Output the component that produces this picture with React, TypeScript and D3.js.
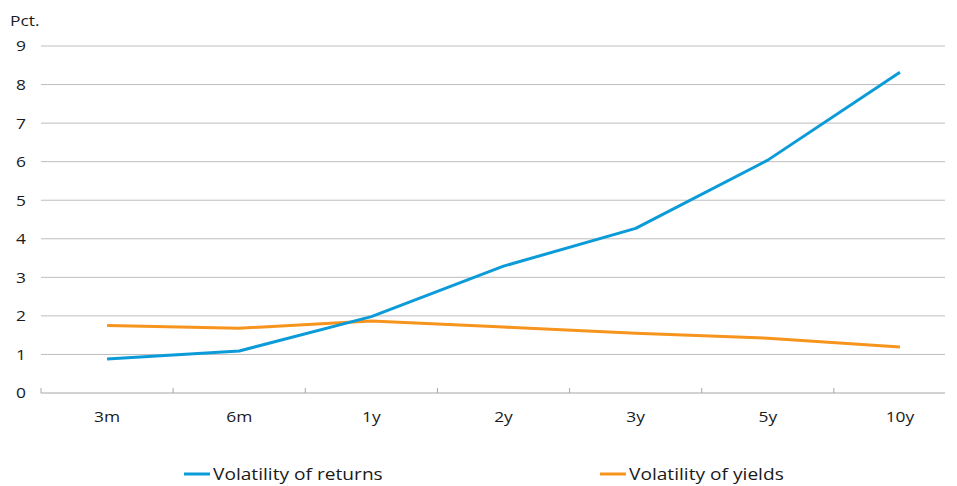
import React from "react";
import * as d3 from "d3";

const categories = ["3m", "6m", "1y", "2y", "3y", "5y", "10y"];
const returnsValues = [0.88, 1.09, 1.98, 3.29, 4.27, 6.04, 8.32];
const yieldsValues = [1.75, 1.68, 1.87, 1.71, 1.55, 1.42, 1.19];
const yTicks = [0, 1, 2, 3, 4, 5, 6, 7, 8, 9];
const seriesNames = ["Volatility of returns", "Volatility of yields"];

const W = 957;
const H = 486;
const left = 41;
const bandRight = 966;
const gridRight = 945;
const top = 46;
const bottom = 393;
const font = "'Open Sans', 'Noto Sans', sans-serif";
const textColor = "#1a1a1a";
const colors = ["#0A9BD8", "#F7941D"];
const stretch = 1.16;

function T(props: { x: number; y: number; anchor?: string; size: number; children: React.ReactNode; dy?: string }) {
  return (
    <text
      transform={`translate(${props.x},${props.y}) scale(${stretch},1)`}
      dy={props.dy}
      textAnchor={props.anchor || "start"}
      fontFamily={font}
      fontSize={props.size}
      fill={textColor}
    >
      {props.children}
    </text>
  );
}

export default function App() {
  const x = d3.scaleBand<string>().domain(categories).range([left, bandRight]);
  const y = d3.scaleLinear().domain([0, 9]).range([bottom, top]);
  const cx = (c: string) => (x(c) as number) + x.bandwidth() / 2;
  const line = d3
    .line<number>()
    .x((_, i) => cx(categories[i]))
    .y((d) => y(d));
  const boundaries = categories.map((c) => x(c) as number).filter((b) => b <= gridRight);

  return (
    <svg width={W} height={H} style={{ position: "absolute", left: 0, top: 0, background: "#fff" }}>
      <T x={10} y={26} size={15}>Pct.</T>
      {yTicks.map((t) => (
        <g key={t}>
          {t > 0 && (
            <line x1={left} x2={gridRight} y1={y(t)} y2={y(t)} stroke="#BDBDBD" strokeWidth={1} />
          )}
          <T x={26} y={y(t)} dy="0.36em" anchor="end" size={15}>
            {t}
          </T>
        </g>
      ))}
      <line x1={left} x2={gridRight} y1={bottom} y2={bottom} stroke="#A6A6A6" strokeWidth={1} />
      {boundaries.map((b, i) => (
        <line key={i} x1={b} x2={b} y1={bottom} y2={bottom - 5} stroke="#A6A6A6" strokeWidth={1} />
      ))}
      {categories.map((c) => (
        <T key={c} x={cx(c)} y={422} anchor="middle" size={15}>
          {c}
        </T>
      ))}
      <path d={line(yieldsValues) || ""} fill="none" stroke={colors[1]} strokeWidth={3} strokeLinejoin="round" />
      <path d={line(returnsValues) || ""} fill="none" stroke={colors[0]} strokeWidth={3} strokeLinejoin="round" />
      {seriesNames.map((name, i) => {
        const lx = i === 0 ? 184 : 600;
        return (
          <g key={name}>
            <line x1={lx} x2={lx + 26} y1={474} y2={474} stroke={colors[i]} strokeWidth={3} />
            <T x={lx + 29} y={474} dy="0.36em" size={16.5}>
              {name}
            </T>
          </g>
        );
      })}
    </svg>
  );
}
